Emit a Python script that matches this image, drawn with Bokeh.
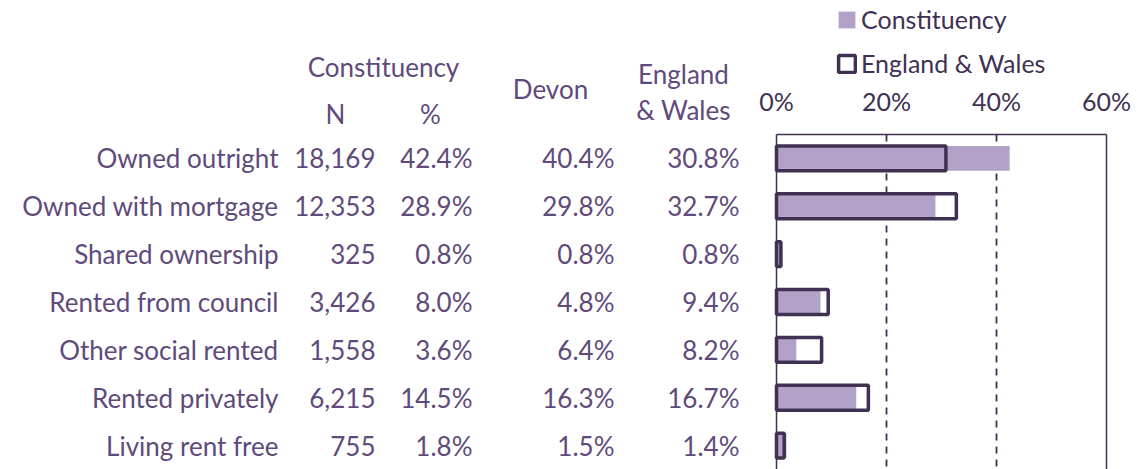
from bokeh.plotting import figure
from bokeh.models import Range1d, ColumnDataSource, Legend, LegendItem
from bokeh.core.properties import value
from bokeh.embed import file_html
from bokeh.resources import INLINE

categories = ["Owned outright", "Owned with mortgage", "Shared ownership",
              "Rented from council", "Other social rented", "Rented privately",
              "Living rent free"]
const_n = [18169, 12353, 325, 3426, 1558, 6215, 755]
const_pct = [42.4, 28.9, 0.8, 8.0, 3.6, 14.5, 1.8]
devon_pct = [40.4, 29.8, 0.8, 4.8, 6.4, 16.3, 1.5]
ew_pct = [30.8, 32.7, 0.8, 9.4, 8.2, 16.7, 1.4]
x_ticks = [0, 20, 40, 60]
header_labels = ["Constituency", "N", "%", "Devon", "England", "& Wales"]

FONT = "Lato"
TXT = "#604A7B"
DARK = "#403152"
FILL = "#B3A2C7"
FS = "26px"

W, H = 1146, 469
TOP = 134            # pixel row of the chart box top
X0 = 776             # pixel column of 0 %
PX_PER_PCT = 5.5     # 20 % = 110 px

n_rows = len(categories)
unit = (H - TOP) / n_rows
y_top = -0.5 - TOP / unit

def ypx(px):
    return -0.5 - (TOP - px) / unit

p = figure(width=W, height=H, x_range=Range1d(0, W), y_range=Range1d(n_rows - 0.5, y_top),
           output_backend="svg", toolbar_location=None,
           min_border_left=0, min_border_right=0, min_border_top=0, min_border_bottom=0)
p.extra_x_ranges = {"pct": Range1d(-X0 / PX_PER_PCT, (W - X0) / PX_PER_PCT)}
p.axis.visible = False
p.grid.visible = False
p.outline_line_color = None

idx = list(range(n_rows))

# ---------- table ----------
src = ColumnDataSource(dict(
    y=idx,
    cat=categories,
    n=[f"{v:,}" for v in const_n],
    cp=[f"{v:.1f}%" for v in const_pct],
    dp=[f"{v:.1f}%" for v in devon_pct],
    ep=[f"{v:.1f}%" for v in ew_pct],
))
col_x = {"cat": 278, "n": 375, "cp": 472, "dp": 614, "ep": 739}
for key, xx in col_x.items():
    p.text(x=xx, y="y", text=key, source=src, text_align="right", text_baseline="middle",
           text_font=value(FONT), text_font_size=FS, text_color=TXT)

header_pos = [(383, 66), (335, 113), (430, 113), (550, 88), (683, 73), (683, 109)]
hsrc = ColumnDataSource(dict(x=[h[0] for h in header_pos], y=[ypx(h[1]) for h in header_pos],
                             t=header_labels))
p.text(x="x", y="y", text="t", source=hsrc, text_align="center", text_baseline="middle",
       text_font=value(FONT), text_font_size=FS, text_color=TXT)

# ---------- chart box, grid and tick labels (pct scale) ----------
p.segment(x0=x_ticks[1:-1], x1=x_ticks[1:-1], y0=-0.5, y1=n_rows - 0.5, x_range_name="pct",
          line_color=DARK, line_width=1.8, line_dash="7 6")
p.segment(x0=[x_ticks[0], x_ticks[-1]], x1=[x_ticks[0], x_ticks[-1]], y0=-0.5, y1=n_rows - 0.5,
          x_range_name="pct", line_color=DARK, line_width=1.5)
p.segment(x0=x_ticks[0], x1=x_ticks[-1], y0=-0.5, y1=-0.5, x_range_name="pct",
          line_color=DARK, line_width=1.5)
p.text(x=x_ticks, y=ypx(100), text=[f"{t}%" for t in x_ticks], x_range_name="pct",
       text_align="center", text_baseline="middle",
       text_font=value(FONT), text_font_size="25px", text_color=DARK)

# ---------- bars ----------
bsrc = ColumnDataSource(dict(y=idx, c=const_pct, e=ew_pct))
r1 = p.hbar(y="y", right="c", left=0, height=0.52, source=bsrc, x_range_name="pct",
            fill_color=FILL, line_color=None)
r2 = p.hbar(y="y", right="e", left=0, height=0.52, source=bsrc, x_range_name="pct",
            fill_color=None, line_color=DARK, line_width=3.5)

legend = Legend(items=[LegendItem(label="Constituency", renderers=[r1]),
                       LegendItem(label="England & Wales", renderers=[r2])],
                location=(836, 391), orientation="vertical",
                label_text_font=FONT, label_text_font_size="25px", label_text_color=DARK,
                glyph_width=21, glyph_height=21, label_height=26, spacing=14, label_standoff=4,
                background_fill_alpha=0, border_line_color=None, padding=0, margin=0)
p.add_layout(legend, "center")

open("out.html", "w").write(file_html(p, INLINE))
